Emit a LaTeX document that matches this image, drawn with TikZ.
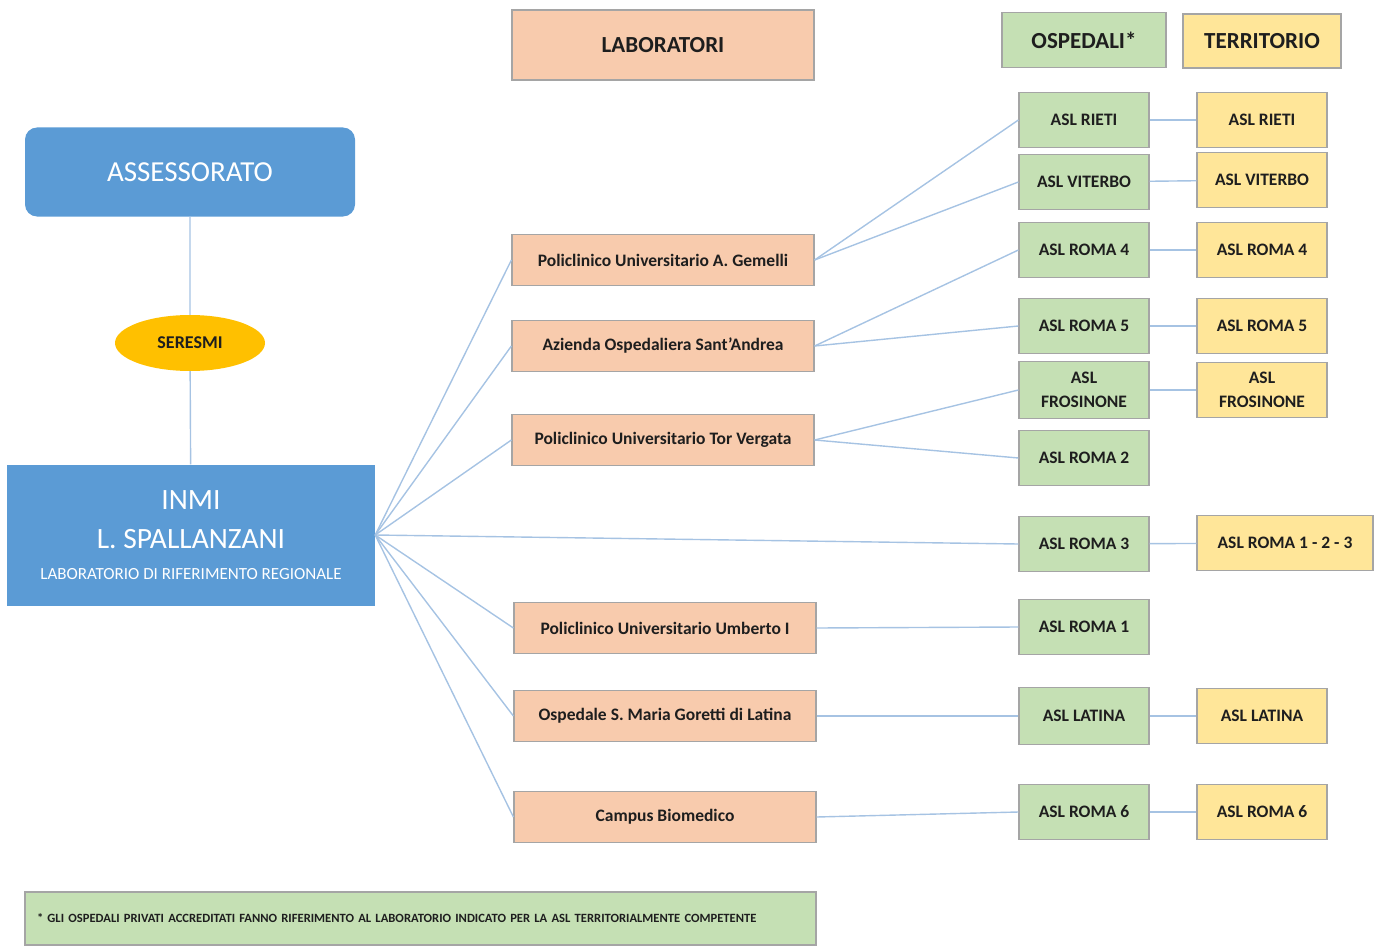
\documentclass[tikz,border=0pt]{standalone}
\usepackage{fontspec}
\setmainfont{Carlito}
\usetikzlibrary{shapes.geometric}

\definecolor{assblue}{HTML}{5B9BD5}
\definecolor{labfill}{HTML}{F8CBAD}
\definecolor{ospfill}{HTML}{C5E0B4}
\definecolor{terfill}{HTML}{FFE699}
\definecolor{serfill}{HTML}{FFC000}
\definecolor{boxgray}{HTML}{A5A5A5}
\definecolor{linkblue}{HTML}{A6C3E3}
\definecolor{txtdark}{HTML}{1E1E1E}

\newcommand{\fs}[1]{\fontsize{#1}{#1}\selectfont}

\tikzset{
  box/.style={draw=boxgray, line width=1.2, text=txtdark, font=\bfseries\fs{17.5}},
  labbox/.style={box, fill=labfill, minimum width=302, minimum height=51},
  ospbox/.style={box, fill=ospfill, minimum width=130, minimum height=55, align=center},
  terbox/.style={box, fill=terfill, minimum width=130, minimum height=55, align=center},
  link/.style={draw=linkblue, line width=1.4}
}

\begin{document}
\begin{tikzpicture}[x=1pt, y=-1pt]
\path (0,0) rectangle (1381,947); % adjust bounding box

% left column
\node[fill=assblue, rounded corners=12, minimum width=330, minimum height=89,
      text=white, font=\fs{29}] (assess) at (190,172) {ASSESSORATO};
\node[ellipse, fill=serfill, minimum width=150, minimum height=56,
      text=txtdark, font=\bfseries\fs{18}] (seresmi) at (190,343) {SERESMI};
\node[fill=assblue, minimum width=368, minimum height=141, text=white,
      align=center, font=\fs{29.5}] (inmi) at (191,535)
  {INMI\\[10pt] L. SPALLANZANI\\[1pt] {\fs{17}LABORATORIO DI RIFERIMENTO REGIONALE}};
\draw[link] (assess) -- (seresmi) -- (inmi);

% headers
\node[labbox, minimum height=70, font=\bfseries\fs{23}] (laborat) at (663,45) {LABORATORI};
\node[ospbox, minimum width=164, font=\bfseries\fs{23}] (ospedali) at (1084,40) {OSPEDALI*};
\node[terbox, minimum width=158, minimum height=54, font=\bfseries\fs{23}] (territ) at (1262,41) {TERRITORIO};

% laboratori
\node[labbox] (gemelli) at (663,260) {Policlinico Universitario A. Gemelli};
\node[labbox] (andrea)  at (663,346) {Azienda Ospedaliera Sant’Andrea};
\node[labbox] (torverg) at (663,440) {Policlinico Universitario Tor Vergata};
\node[labbox] (umberto) at (665,628) {Policlinico Universitario Umberto I};
\node[labbox] (goretti) at (665,716) {Ospedale S. Maria Goretti di Latina};
\node[labbox] (campus)  at (665,817) {Campus Biomedico};

% ospedali
\node[ospbox] (oRieti)   at (1084,120) {ASL RIETI};
\node[ospbox] (oViterbo) at (1084,182) {ASL VITERBO};
\node[ospbox] (oRomaIV)  at (1084,250) {ASL ROMA 4};
\node[ospbox] (oRomaV)   at (1084,326) {ASL ROMA 5};
\node[ospbox, minimum height=57] (oFros) at (1084,390) {ASL\\[6pt]FROSINONE};
\node[ospbox] (oRomaII)  at (1084,458) {ASL ROMA 2};
\node[ospbox] (oRomaIII) at (1084,544) {ASL ROMA 3};
\node[ospbox] (oRomaI)   at (1084,627) {ASL ROMA 1};
\node[ospbox, minimum height=57] (oLatina) at (1084,716) {ASL LATINA};
\node[ospbox] (oRomaVI)  at (1084,812) {ASL ROMA 6};

% territorio
\node[terbox] (tRieti)   at (1262,120) {ASL RIETI};
\node[terbox] (tViterbo) at (1262,180) {ASL VITERBO};
\node[terbox] (tRomaIV)  at (1262,250) {ASL ROMA 4};
\node[terbox] (tRomaV)   at (1262,326) {ASL ROMA 5};
\node[terbox] (tFros)    at (1262,390) {ASL\\[6pt]FROSINONE};
\node[terbox, minimum width=176] (tRomaIII) at (1285,543) {ASL ROMA 1 - 2 - 3};
\node[terbox] (tLatina)  at (1262,716) {ASL LATINA};
\node[terbox] (tRomaVI)  at (1262,812) {ASL ROMA 6};

% nota
\node[box, fill=ospfill, minimum width=791, minimum height=53, text width=767,
      align=left, font=\bfseries\fs{12.6}] (nota) at (420.5,918.5)
  {* GLI OSPEDALI PRIVATI ACCREDITATI FANNO RIFERIMENTO AL LABORATORIO INDICATO PER LA ASL TERRITORIALMENTE COMPETENTE};

\foreach \lab in {gemelli,andrea,torverg,umberto,goretti,campus}
  \draw[link] (inmi.east) -- (\lab.west);
\draw[link] (inmi.east) -- (oRomaIII.west);

\foreach \a/\b in {gemelli/oRieti, gemelli/oViterbo, andrea/oRomaIV, andrea/oRomaV,
                   torverg/oFros, torverg/oRomaII, umberto/oRomaI, goretti/oLatina,
                   campus/oRomaVI}
  \draw[link] (\a.east) -- (\b.west);

\foreach \o/\t in {oRieti/tRieti, oViterbo/tViterbo, oRomaIV/tRomaIV, oRomaV/tRomaV,
                   oFros/tFros, oRomaIII/tRomaIII, oLatina/tLatina, oRomaVI/tRomaVI}
  \draw[link] (\o) -- (\t);
\end{tikzpicture}
\end{document}
